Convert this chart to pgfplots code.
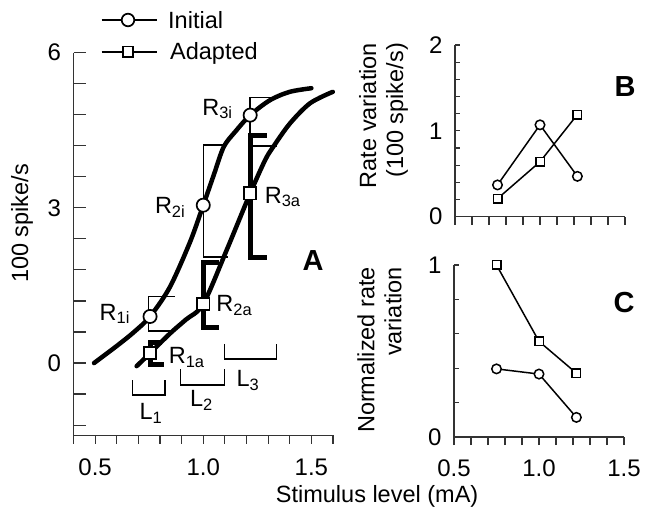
\documentclass[border=0pt]{standalone}
\usepackage{fontspec}
\setmainfont{Liberation Sans}
\usepackage{pgfplots}
\pgfplotsset{compat=1.18}
\begin{document}
\fontsize{23.5bp}{27bp}\selectfont
\begin{tikzpicture}[font=\fontsize{23.5bp}{27bp}\selectfont]
\path[use as bounding box] (0,0) rectangle (655bp,520bp);
\pgfplotsset{
 panel/.style={
  scale only axis, clip=false,
  axis x line*=bottom, axis y line*=left,
  axis line style={line width=1.2bp, black!80},
  tick style={line width=1.2bp, black!80},
  tick align=inside,
  major tick length=8bp, minor tick length=8bp,
  x tick style={yshift=-8bp},
  xticklabel style={yshift=-15bp},
  yticklabel style={xshift=-4.5bp},
  every tick label/.append style={font=\fontsize{24bp}{27bp}\selectfont},
 },
 bthin/.style={line width=1.4bp, black, forget plot},
 bthick/.style={line width=5bp, black, line join=miter, forget plot},
 sigm/.style={line width=4.5bp, black, smooth, tension=0.5, line cap=round, forget plot},
 circ/.style={only marks, mark=*, mark size=#1, mark options={fill=white, draw=black, line width=1.7bp}, forget plot},
 sq/.style={only marks, mark=square*, mark size=#1, mark options={fill=white, draw=black, line width=1.7bp}, forget plot},
}
% ---------------- Panel A ----------------
\begin{axis}[panel, at={(73.5bp,84.5bp)}, anchor=south west,
  width=259.5bp, height=383bp,
  xmin=0.4, xmax=1.6, ymin=-1.4, ymax=6,
  xtick={0.5,1.0,1.5}, xticklabels={0.5,1.0,1.5},
  minor xtick={0.4,0.6,0.7,0.8,0.9,1.1,1.2,1.3,1.4,1.6},
  ytick={0,3,6}, yticklabels={0,3,6},
  minor ytick={-1.2,-0.6,0.6,1.2,1.8,2.4,3.6,4.2,4.8,5.4},
  y tick style={/pgfplots/major tick length=12bp, /pgfplots/minor tick length=12bp},
  ylabel={100 spike/s},
  ylabel style={at={(axis description cs:-0.198,0.554)}, anchor=center},
  xlabel={Stimulus level (mA)},
  xlabel style={at={(axis description cs:1.17,-0.158)}, anchor=center},
]
% legend samples
\addplot[line width=1.7bp, black, mark=*, mark indices={2}, mark size=6.3bp, mark options={fill=white, line width=1.7bp}, forget plot] coordinates {(0.530,6.628) (0.652,6.628) (0.785,6.628)};
\addplot[line width=1.7bp, black, mark=square*, mark indices={2}, mark size=5.2bp, mark options={fill=white, line width=1.7bp}, forget plot] coordinates {(0.530,6.015) (0.652,6.015) (0.785,6.015)};
\node[anchor=base west, inner sep=0pt] at (axis cs:0.837,6.468) {Initial};
\node[anchor=base west, inner sep=0pt] at (axis cs:0.846,5.86) {Adapted};
% thin brackets (initial)
\addplot[bthin] coordinates {(0.87,1.28) (0.748,1.28) (0.748,0.62) (0.865,0.62)};
\addplot[bthin] coordinates {(1.095,4.21) (1.0,4.21) (1.0,2.05) (1.116,2.05)};
\addplot[bthin] coordinates {(1.33,5.13) (1.217,5.13) (1.217,4.19) (1.34,4.19)};
% L brackets
\addplot[bthin] coordinates {(0.674,-0.33) (0.674,-0.62) (0.823,-0.62) (0.823,-0.33)};
\addplot[bthin] coordinates {(0.896,-0.12) (0.896,-0.425) (1.097,-0.425) (1.097,-0.12)};
\addplot[bthin] coordinates {(1.097,0.37) (1.097,0.077) (1.34,0.077) (1.34,0.37)};
% curves
\addplot[sigm] coordinates {(0.495,0) (0.6,0.33) (0.68,0.6) (0.754,0.9) (0.846,1.47) (0.94,2.35) (1.0,3.05) (1.05,3.65) (1.095,4.18) (1.15,4.48) (1.217,4.79) (1.309,5.08) (1.40,5.24) (1.50,5.31)};
\addplot[sigm] coordinates {(0.692,-0.06) (0.754,0.19) (0.846,0.57) (0.92,0.84) (1.0,1.14) (1.11,2.2) (1.217,3.28) (1.286,3.92) (1.324,4.18) (1.401,4.63) (1.494,5.02) (1.599,5.24)};
% thick brackets (adapted)
\addplot[bthick] coordinates {(0.81,0.40) (0.758,0.40) (0.758,-0.02) (0.818,-0.02)};
\addplot[bthick] coordinates {(1.075,1.94) (1.0,1.94) (1.0,0.68) (1.072,0.68)};
\addplot[bthick] coordinates {(1.293,4.40) (1.217,4.40) (1.217,2.04) (1.293,2.04)};
% points
\addplot[circ=6.6bp] coordinates {(0.754,0.9) (1.0,3.05) (1.217,4.79)};
\addplot[sq=6.1bp] coordinates {(0.754,0.19) (1.0,1.14) (1.217,3.28)};
% labels
\node[anchor=base west, inner sep=0pt] at (axis cs:0.52,0.83) {R\textsubscript{1i}};
\node[anchor=base west, inner sep=0pt] at (axis cs:0.84,-0.01) {R\textsubscript{1a}};
\node[anchor=base west, inner sep=0pt] at (axis cs:0.776,2.89) {R\textsubscript{2i}};
\node[anchor=base west, inner sep=0pt] at (axis cs:1.06,0.99) {R\textsubscript{2a}};
\node[anchor=base west, inner sep=0pt] at (axis cs:0.995,4.79) {R\textsubscript{3i}};
\node[anchor=base west, inner sep=0pt] at (axis cs:1.284,3.09) {R\textsubscript{3a}};
\node[anchor=base west, inner sep=0pt] at (axis cs:0.705,-1.10) {L\textsubscript{1}};
\node[anchor=base west, inner sep=0pt] at (axis cs:0.938,-0.845) {L\textsubscript{2}};
\node[anchor=base west, inner sep=0pt] at (axis cs:1.153,-0.457) {L\textsubscript{3}};
\node[font=\fontsize{29bp}{32bp}\selectfont\bfseries] at (axis cs:1.508,1.99) {A};
\end{axis}
% ---------------- Panel B ----------------
\begin{axis}[panel, at={(455bp,303.3bp)}, anchor=south west,
  width=170bp, height=171.7bp,
  xmin=0.5, xmax=1.5, ymin=0, ymax=2,
  xtick={0.5,0.6,0.7,0.8,0.9,1.0,1.1,1.2,1.3,1.4,1.5}, xticklabels={},
  ytick={0,1,2}, yticklabels={0,1,2},
  minor ytick={0.2,0.4,0.6,0.8,1.2,1.4,1.6,1.8},
  y tick style={/pgfplots/major tick length=5bp, /pgfplots/minor tick length=5bp},
  ylabel={Rate variation\\(100 spike/s)},
  ylabel style={align=right, at={(axis description cs:-0.42,0.589)}, anchor=center},
]
\addplot[line width=1.5bp, black, mark=*, mark size=4.75bp, mark options={fill=white, line width=1.5bp}] coordinates {(0.75,0.37) (1.0,1.07) (1.22,0.47)};
\addplot[line width=1.5bp, black, mark=square*, mark size=4.25bp, mark options={fill=white, line width=1.5bp}] coordinates {(0.75,0.21) (1.0,0.64) (1.22,1.19)};
\node[font=\fontsize{29bp}{32bp}\selectfont\bfseries] at (axis cs:1.5,1.52) {B};
\end{axis}
% ---------------- Panel C ----------------
\begin{axis}[panel, at={(454bp,83bp)}, anchor=south west,
  width=170bp, height=172bp,
  xmin=0.5, xmax=1.5, ymin=0, ymax=1,
  xtick={0.5,1.0,1.5}, xticklabels={0.5,1.0,1.5},
  minor xtick={0.6,0.7,0.8,0.9,1.1,1.2,1.3,1.4},
  ytick={0,1}, yticklabels={0,1},
  minor ytick={0.2,0.4,0.6,0.8},
  y tick style={/pgfplots/major tick length=5bp, /pgfplots/minor tick length=5bp},
  ylabel={Normalized rate\\variation},
  ylabel style={align=right, at={(axis description cs:-0.438,0.506)}, anchor=center},
]
\addplot[line width=1.5bp, black, mark=square*, mark size=4.25bp, mark options={fill=white, line width=1.5bp}] coordinates {(0.75,1.0) (1.0,0.556) (1.22,0.371)};
\addplot[line width=1.5bp, black, mark=*, mark size=4.75bp, mark options={fill=white, line width=1.5bp}] coordinates {(0.75,0.396) (1.0,0.366) (1.22,0.114)};
\node[font=\fontsize{29bp}{32bp}\selectfont\bfseries] at (axis cs:1.5,0.78) {C};
\end{axis}
\end{tikzpicture}
\end{document}
